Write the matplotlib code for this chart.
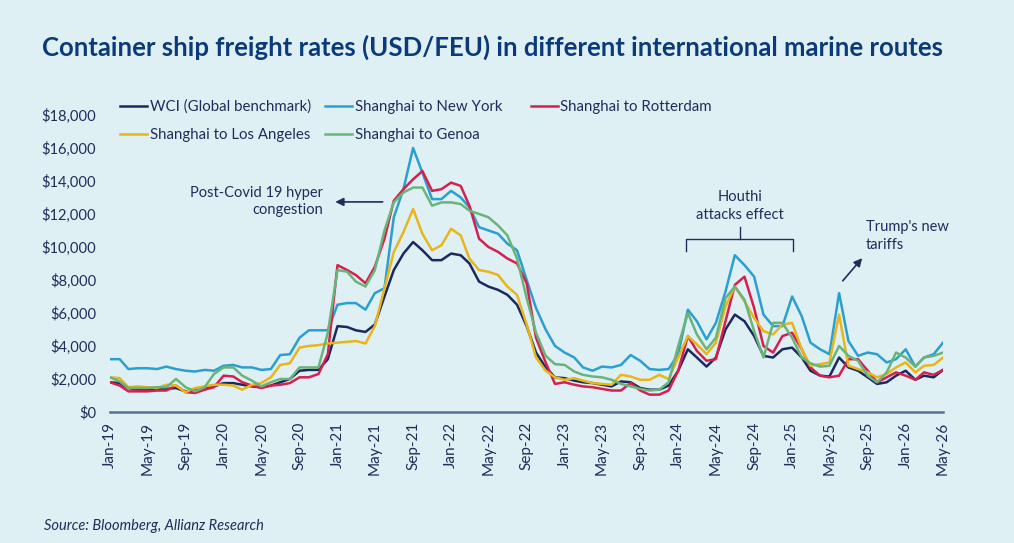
import matplotlib
matplotlib.use("Agg")
import matplotlib.pyplot as plt
import pandas as pd

# monthly readings, Jan-19 .. May-26 (USD per FEU)
months = pd.date_range("2019-01-01", "2026-05-01", freq="MS")

wci = [1800, 1750, 1450, 1350, 1350, 1400, 1400, 1450, 1250, 1300, 1400, 1550,
       1750, 1750, 1650, 1550, 1500, 1600, 1800, 2000, 2500, 2550, 2550, 3200,
       5200, 5150, 4950, 4850, 5300, 7000, 8600, 9600, 10300, 9800, 9200, 9200,
       9600, 9500, 9000, 7900, 7600, 7400, 7100, 6500, 5200, 3600, 2700, 2100,
       2050, 1900, 1800, 1750, 1650, 1550, 1850, 1800, 1450, 1350, 1350, 1600,
       2500, 3800, 3300, 2750, 3300, 5000, 5900, 5500, 4600, 3400, 3300, 3800,
       3900, 3300, 2500, 2200, 2150, 3300, 2700, 2500, 2100, 1700, 1800, 2200,
       2500, 1950, 2200, 2100, 2550]

new_york = [3200, 3200, 2600, 2650, 2650, 2600, 2750, 2600, 2500, 2450, 2550, 2500,
            2800, 2850, 2700, 2700, 2550, 2600, 3450, 3500, 4500, 4950, 4950, 4950,
            6500, 6600, 6600, 6200, 7200, 7500, 11800, 13500, 16000, 14500, 12900, 12900,
            13400, 13000, 12400, 11200, 11000, 10800, 10200, 9800, 8000, 6300, 5000, 4000,
            3600, 3300, 2700, 2500, 2750, 2700, 2850, 3450, 3100, 2600, 2550, 2600,
            3500, 6200, 5500, 4400, 5400, 7300, 9500, 8900, 8200, 5900, 5200, 5200,
            7000, 5800, 4200, 3800, 3500, 7200, 4300, 3400, 3600, 3500, 3000, 3200,
            3800, 2750, 3300, 3500, 4200]

rotterdam = [1800, 1600, 1250, 1250, 1250, 1300, 1300, 1600, 1200, 1150, 1350, 1500,
             2200, 2150, 1800, 1600, 1450, 1600, 1650, 1750, 2100, 2100, 2300, 3500,
             8900, 8600, 8300, 7800, 8800, 10500, 12800, 13500, 14100, 14600, 13400, 13500,
             13900, 13700, 12500, 10500, 10000, 9700, 9300, 9000, 7800, 4500, 3000, 1700,
             1800, 1650, 1550, 1500, 1400, 1300, 1300, 1750, 1300, 1050, 1050, 1300,
             2500, 4600, 3700, 3100, 3200, 5500, 7700, 8200, 6300, 4000, 3600, 4600,
             4800, 3800, 2700, 2200, 2100, 2200, 3200, 3200, 2500, 1800, 2100, 2400,
             2200, 1950, 2400, 2250, 2550]

los_angeles = [2100, 2050, 1500, 1550, 1500, 1450, 1650, 1600, 1200, 1450, 1550, 1650,
               1650, 1600, 1350, 1650, 1750, 2100, 2850, 2950, 3900, 4000, 4050, 4150,
               4200, 4250, 4300, 4150, 5200, 7500, 9700, 10900, 12300, 10800, 9800, 10100,
               11100, 10700, 9300, 8600, 8500, 8300, 7600, 7100, 5300, 3300, 2500, 2100,
               1950, 2050, 1900, 1750, 1700, 1650, 2250, 2150, 1950, 1950, 2250, 2000,
               3300, 4600, 4100, 3500, 4200, 6400, 7600, 6700, 5700, 4900, 4700, 5300,
               5400, 3800, 2800, 2900, 3000, 5900, 2800, 2600, 2400, 2100, 2300, 2700,
               3000, 2400, 2800, 2850, 3300]

genoa = [2100, 1850, 1450, 1450, 1450, 1500, 1500, 2000, 1500, 1250, 1500, 2300,
         2700, 2700, 2200, 1900, 1550, 1800, 2000, 2000, 2700, 2700, 2700, 4800,
         8600, 8500, 7900, 7600, 8600, 11000, 12700, 13300, 13600, 13600, 12500, 12700,
         12700, 12600, 12200, 12000, 11800, 11300, 10700, 9300, 6900, 4800, 3400, 2900,
         2850, 2450, 2250, 2150, 2100, 1950, 1700, 1550, 1400, 1300, 1350, 1800,
         4000, 6000, 4700, 3800, 4500, 6900, 7600, 6800, 4900, 3300, 5400, 5400,
         4500, 3300, 2950, 2750, 2800, 4000, 3400, 3100, 2200, 1800, 2400, 3600,
         3300, 2750, 3300, 3400, 3600]

series_names = ["WCI (Global benchmark)", "Shanghai to New York", "Shanghai to Rotterdam",
                "Shanghai to Los Angeles", "Shanghai to Genoa"]
series_values = [wci, new_york, rotterdam, los_angeles, genoa]
colors = ["#1b2a5e", "#2a9fd0", "#d5204f", "#e8b51a", "#6ab47a"]

y_ticks = list(range(0, 18001, 2000))
x_tick_dates = months[::4]

navy = "#1f2d5a"
bg = "#dff0f4"
plt.rcParams["font.family"] = ["Lato", "DejaVu Sans"]

fig = plt.figure(figsize=(10.14, 5.43), dpi=100, facecolor=bg)
ax = fig.add_axes([0.1085, 0.2413, 0.8215, 0.547])
ax.set_facecolor(bg)

lines = []
for name, vals, c in zip(series_names, series_values, colors):
    ln, = ax.plot(months, vals, color=c, lw=1.8, label=name)
    lines.append(ln)

ax.set_xlim(months[0], months[-1])
ax.set_ylim(0, 18000)
ax.set_yticks(y_ticks)
ax.set_yticklabels(["${:,}".format(v) for v in y_ticks])
ax.set_xticks(x_tick_dates)
ax.set_xticklabels([d.strftime("%b-%y") for d in x_tick_dates], rotation=90)
ax.tick_params(axis="both", length=0, labelsize=11, colors=navy)
ax.tick_params(axis="y", pad=10, labelsize=10.6)
ax.tick_params(axis="x", pad=7)
for s in ["top", "right", "left"]:
    ax.spines[s].set_visible(False)
ax.spines["bottom"].set_color("#5b6e96")
ax.spines["bottom"].set_linewidth(1.8)

# legend as three fixed-width columns: (WCI, LA), (NY, Genoa), (Rotterdam)
legend_cols = [([0, 3], 0.1114), ([1, 4], 0.3136), ([2], 0.5158)]
for idx, xpos in legend_cols:
    leg = fig.legend([lines[i] for i in idx], [series_names[i] for i in idx],
                     loc="upper left", bbox_to_anchor=(xpos, 0.83),
                     frameon=False, fontsize=10.8, handlelength=1.8,
                     handletextpad=0.15, labelspacing=0.95, borderpad=0)
    for t in leg.get_texts():
        t.set_color(navy)

# annotations (positions in data coords)
def m2d(m):
    return months[0] + pd.DateOffset(days=int(m * 30.44))

ax.text(m2d(22.5), 12760, "Post-Covid 19 hyper\ncongestion", ha="right", va="center",
        multialignment="right", fontsize=10.5, color=navy, linespacing=1.3)
ax.annotate("", xy=(m2d(23.5), 12730), xytext=(m2d(29.1), 12730),
            arrowprops=dict(arrowstyle="-|>", color=navy, lw=1.2, mutation_scale=12))

ax.text(m2d(66.5), 12480, "Houthi\nattacks effect", ha="center", va="center",
        fontsize=10.5, color=navy, linespacing=1.3)
bx = [m2d(60.8), m2d(60.8), m2d(72.1), m2d(72.1)]
by = [9760, 10485, 10485, 9760]
ax.plot(bx, by, color=navy, lw=1.0)
ax.plot([m2d(66.5), m2d(66.5)], [10485, 11210], color=navy, lw=1.0)

ax.text(m2d(79.8), 10670, "Trump's new\ntariffs", ha="left", va="center",
        fontsize=10.5, color=navy, linespacing=1.3)
ax.annotate("", xy=(m2d(79.6), 9450), xytext=(m2d(77.2), 7820),
            arrowprops=dict(arrowstyle="-|>", color=navy, lw=1.2, mutation_scale=12))

fig.text(0.041, 0.912, "Container ship freight rates (USD/FEU) in different international marine routes",
         fontsize=18.5, fontweight="bold", color="#0a3a7a", va="center")
fig.text(0.043, 0.031, "Source: Bloomberg, Allianz Research", fontsize=10.5,
         style="italic", color=navy, va="center")

fig.savefig("out.png", dpi=100, facecolor=bg)
